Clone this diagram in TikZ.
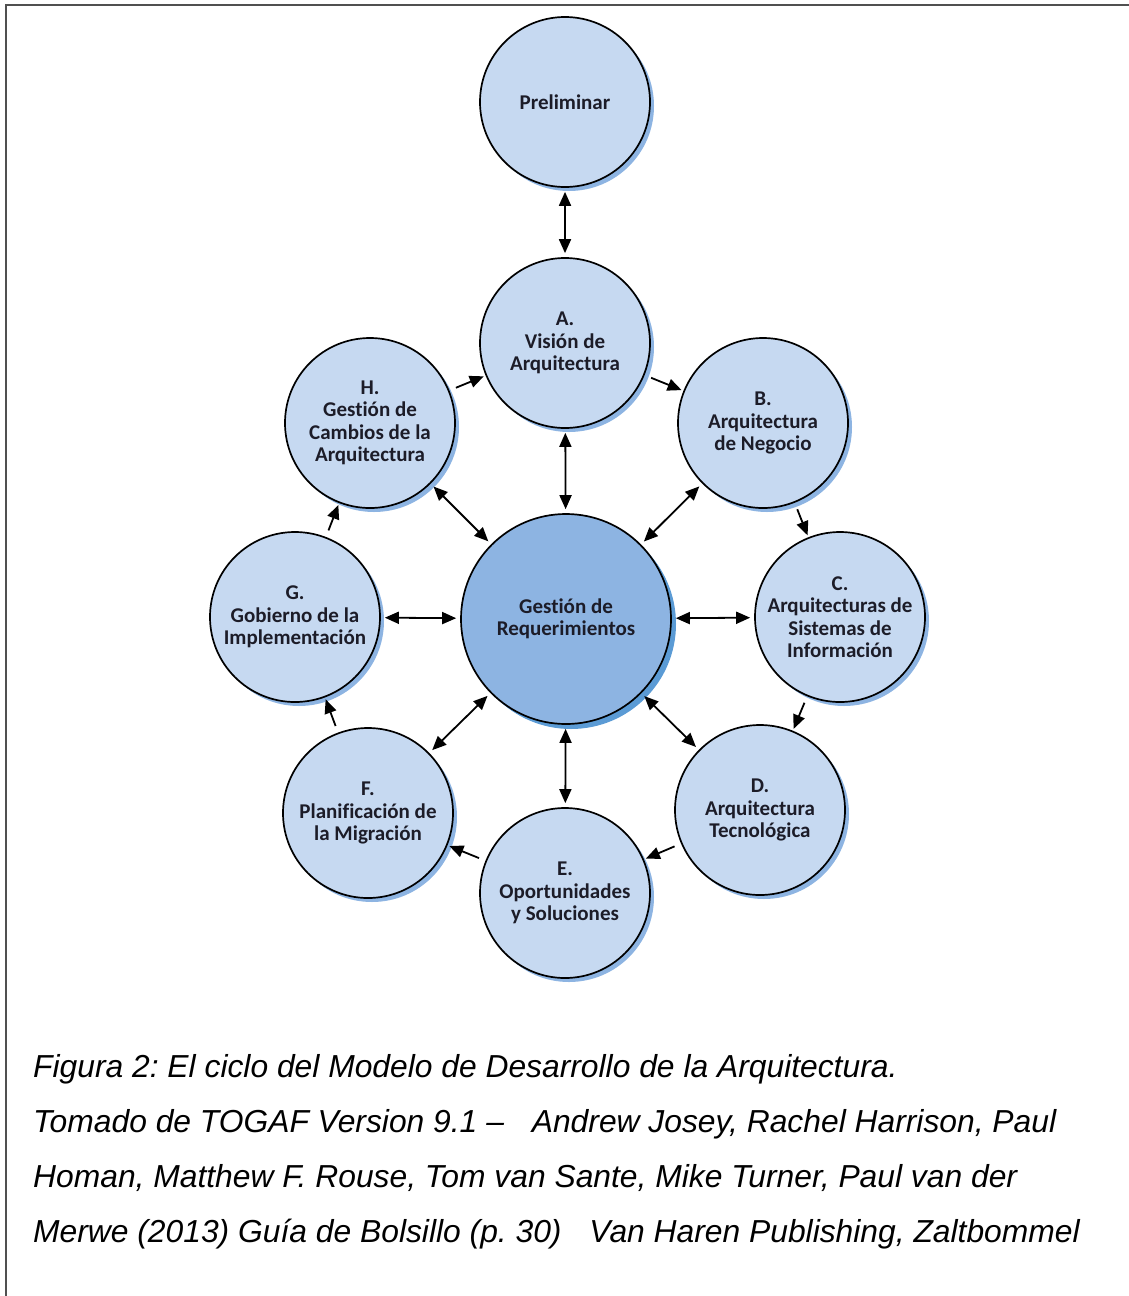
\documentclass[tikz,border=0pt]{standalone}
\usepackage{fontspec}
\usetikzlibrary{arrows.meta,shadows}
\setmainfont{Liberation Sans}
\newfontfamily\labelfont[Ligatures=NoCommon]{Carlito}

\definecolor{phasefill}{HTML}{C6D9F1}
\definecolor{phaseshade}{HTML}{8DB4E2}
\definecolor{corefill}{HTML}{8DB4E2}
\definecolor{coreshade}{HTML}{5B9BD5}
\definecolor{labelink}{HTML}{1C1C28}
\definecolor{framegray}{HTML}{505050}

\tikzset{
  phase/.style={circle, draw=black, line width=1.7pt, fill=phasefill,
    minimum size=170pt, inner sep=0pt, align=center,
    font=\labelfont\bfseries\fontsize{21}{22.5}\selectfont, text=labelink,
    general shadow={fill=phaseshade, shadow xshift=4pt, shadow yshift=-4pt}},
  core/.style={phase, minimum size=210pt, fill=corefill,
    general shadow={fill=coreshade, shadow xshift=5pt, shadow yshift=-5pt}},
  link/.style={line width=1.8pt, -{Triangle[length=14pt,width=12pt]}},
  twoway/.style={line width=1.8pt,
    {Triangle[length=14pt,width=12pt]}-{Triangle[length=14pt,width=12pt]},
    shorten <=4pt, shorten >=4pt},
  cycle/.style={link, shorten <=7pt, shorten >=2pt},
  caption/.style={anchor=base west, inner sep=0pt,
    font=\itshape\fontsize{31.8}{36}\selectfont}
}

\begin{document}
\frenchspacing
\begin{tikzpicture}[x=1pt, y=-1pt]
  \useasboundingbox (0,0) rectangle (1129,1296);
  % frame: top and left rules
  \draw[framegray, line width=2pt] (6,1296) -- (6,5) -- (1129,5);

  % phases of the cycle
  \node[phase] (prel) at (565,102) {Preliminar};
  \node[phase] (a) at (565,343) {A.\\Visión de\\Arquitectura};
  \node[phase] (b) at (763,423) {B.\\Arquitectura\\de Negocio};
  \node[phase] (c) at (840,617) {C.\\Arquitecturas de\\Sistemas de\\Información};
  \node[phase] (d) at (760,810) {D.\\Arquitectura\\Tecnológica};
  \node[phase] (e) at (565,893) {E.\\Oportunidades\\y Soluciones};
  \node[phase] (f) at (368,813) {F.\\Planificación de\\la Migración};
  \node[phase] (g) at (295,617) {G.\\Gobierno de la\\Implementación};
  \node[phase] (h) at (370,423) {H.\\Gestión de\\Cambios de la\\Arquitectura};
  \node[core] (req) at (566,619) {Gestión de\\Requerimientos};

  % preliminary phase feeds phase A
  \draw[twoway] (prel) -- (a);

  % the ADM cycle
  \draw[cycle] (a) -- (b);
  \draw[cycle] (b) -- (c);
  \draw[cycle] (c) -- (d);
  \draw[cycle] (d) -- (e);
  \draw[cycle] (e) -- (f);
  \draw[cycle] (f) -- (g);
  \draw[cycle] (g) -- (h);
  \draw[cycle] (h) -- (a);

  % requirements management talks to every phase
  \foreach \p in {a,b,c,d,e,f,g,h}
    \draw[twoway] (req) -- (\p);

  % caption
  \node[caption] (cap1) at (33,1077) {Figura 2: El ciclo del Modelo de Desarrollo de la Arquitectura.};
  \node[caption] (cap2) at (33,1132) {Tomado de TOGAF Version 9.1 –\hspace{0.6em} Andrew Josey, Rachel Harrison, Paul};
  \node[caption] (cap3) at (33,1187) {Homan, Matthew F. Rouse, Tom van Sante, Mike Turner, Paul van der};
  \node[caption] (cap4) at (33,1242) {Merwe (2013) Guía de Bolsillo (p. 30)\hspace{0.6em} Van Haren Publishing, Zaltbommel};
\end{tikzpicture}
\end{document}
